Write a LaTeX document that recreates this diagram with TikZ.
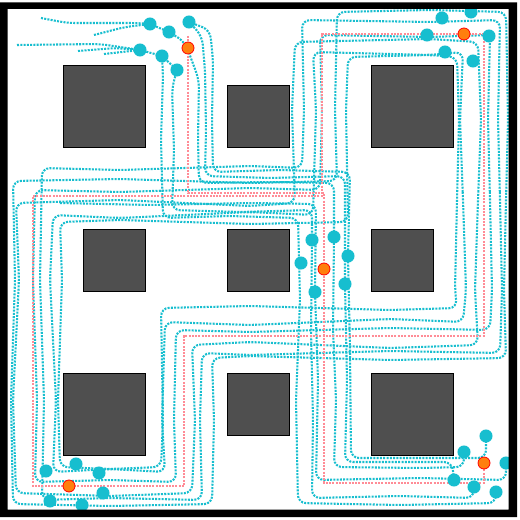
\documentclass[tikz,border=0pt]{standalone}
\definecolor{tcyan}{RGB}{23,190,207}
\definecolor{tpink}{RGB}{255,140,150}
\definecolor{torange}{RGB}{255,127,14}
\definecolor{obstgray}{RGB}{79,79,79}
% loop trail: top, upper-left vertical, upper-left horizontal, left, bottom, inner vertical, lower horizontal, right, wobble
\newcommand\looptrail[9]{%
  \draw[traj] (#8,200) -- ({#8+(#9)},120) -- (#8,#1) -- (430,{#1-(#9)}) -- (#2,#1)
    -- ({#2-(#9)},110) -- (#2,#3) -- (250,{#3+(#9)}) -- (120,{#3-(#9)}) -- (#4,#3)
    -- ({#4+(#9)},280) -- ({#4-(#9)},400) -- (#4,#5) -- (110,{#5+(#9)}) -- (#6,#5)
    -- ({#6+(#9)},420) -- (#6,#7) -- (250,{#7-(#9)}) -- (390,{#7+(#9)}) -- (#8,#7)
    -- ({#8-(#9)},290) -- cycle;}
\begin{document}
\begin{tikzpicture}[x=0.75pt,y=-0.75pt,
  traj/.style={draw=tcyan, line width=1.55pt, dash pattern=on 1.5pt off 0.95pt, rounded corners=6pt},
  plan/.style={draw=tpink, line width=1.55pt, dash pattern=on 1.5pt off 0.95pt},
  obst/.style={fill=obstgray, draw=black, line width=0.7pt},
  robot/.style={circle, fill=tcyan, inner sep=0pt, minimum size=9.8pt},
  leader/.style={circle, fill=torange, draw=red, line width=0.6pt, inner sep=0pt, minimum size=9pt}]
\useasboundingbox (0,0) rectangle (519,520);
\fill[white] (0,0) rectangle (519,520);

% robot positions
\coordinate (tl1) at (150,24); \coordinate (tl2) at (169,32); \coordinate (tl3) at (189,22);
\coordinate (tl4) at (140,50); \coordinate (tl5) at (162,56); \coordinate (tl6) at (177,70);
\coordinate (tlL) at (188,48);
\coordinate (tr1) at (442,18); \coordinate (tr2) at (471,12); \coordinate (tr3) at (427,35);
\coordinate (tr4) at (489,36); \coordinate (tr5) at (445,52); \coordinate (tr6) at (473,61);
\coordinate (trL) at (464,34);
\coordinate (c1) at (312,240); \coordinate (c2) at (334,237); \coordinate (c3) at (301,263);
\coordinate (c4) at (348,256); \coordinate (c5) at (315,292); \coordinate (c6) at (345,284);
\coordinate (cL) at (324,269);
\coordinate (bl1) at (46,471); \coordinate (bl2) at (76,464); \coordinate (bl3) at (99,473);
\coordinate (bl4) at (103,493); \coordinate (bl5) at (50,501); \coordinate (bl6) at (82,505);
\coordinate (blL) at (69,486);
\coordinate (br1) at (486,436); \coordinate (br2) at (464,452); \coordinate (br3) at (506,463);
\coordinate (br4) at (454,480); \coordinate (br5) at (474,487); \coordinate (br6) at (496,492);
\coordinate (brL) at (484,463);

% obstacles
\draw[obst] (63,65) rectangle (145,147);
\draw[obst] (227,85) rectangle (289,147);
\draw[obst] (371,65) rectangle (453,147);
\draw[obst] (83,229) rectangle (145,291);
\draw[obst] (227,229) rectangle (289,291);
\draw[obst] (371,229) rectangle (433,291);
\draw[obst] (63,373) rectangle (145,455);
\draw[obst] (227,373) rectangle (289,435);
\draw[obst] (371,373) rectangle (453,455);

% loop trajectories
\looptrail{12}{337}{181}{13}{504}{212}{358}{506}{2}
\looptrail{20}{302}{168}{42}{500}{202}{353}{500}{-2}
\looptrail{42}{295}{203}{16}{493}{192}{345}{478}{3}
\looptrail{52}{313}{215}{53}{472}{165}{322}{463}{-3}
\looptrail{57}{348}{222}{60}{467}{161}{308}{457}{2}
\looptrail{35}{320}{190}{35}{482}{176}{330}{490}{-2}

% route B trajectories
\draw[traj] (tl5) -- (163,75) -- (161,140) -- (163,218) -- (230,216) -- (298,218) -- (300,300)
  -- (296,400) -- (298,503) -- (400,505) -- (496,503) -- (br6);
\draw[traj] (tl6) -- (172,88) -- (174,150) -- (172,210) -- (240,212) -- (312,210) -- (c1)
  -- (311,330) -- (313,420) -- (312,498) -- (400,496) -- (474,498) -- (br5);
\draw[traj] (60,203) -- (150,205) -- (250,203) -- (316,204) -- (c5) -- (318,380)
  -- (316,480) -- (420,478) -- (506,480) -- (br3);
\draw[traj] (tl2) -- (185,42) -- (199,80) -- (198,140) -- (199,183) -- (270,182) -- (334,183)
  -- (c2) -- (333,330) -- (336,400) -- (334,467) -- (420,468) -- (464,467) -- (br2);
\draw[traj] (tl3) -- (202,36) -- (205,70) -- (206,130) -- (205,176) -- (270,178) -- (345,176)
  -- (c6) -- (347,380) -- (345,462) -- (452,462) -- (br4);
\draw[traj] (tl3) -- (210,30) -- (213,60) -- (212,120) -- (213,172) -- (280,170) -- (350,172)
  -- (c4) -- (350,350) -- (351,458) -- (486,458) -- (br1);

% tails at the top left
\draw[traj] (41,18) -- (67,23) -- (137,23) -- (tl1);
\draw[traj] (94,35) -- (125,27) -- (tl1);
\draw[traj] (17,45) -- (100,44) -- (tl4);
\draw[traj] (78,51) -- (115,48) -- (tl4);
\draw[traj] (104,54) -- (tl4);
\draw[traj] (tl1) -- (tl2);
\draw[traj] (tl4) -- (tl5) -- (tl6);

% planned paths
\draw[plan] (484,34) -- (322,34) -- (322,196) -- (33,196) -- (33,486) -- (184,486)
  -- (184,336) -- (484,336) -- cycle;
\draw[plan] (188,36) -- (188,193) -- (324,193) -- (324,483) -- (484,483) -- (484,463);

% robots
\foreach \g in {tl,tr,c,bl,br}{
  \foreach \i in {1,...,6}{ \node[robot] (n-\g\i) at (\g\i) {}; }
  \node[leader] (n-\g L) at (\g L) {};
}

% frame
\fill[black, even odd rule] (0,2.5) rectangle (517,517) (7.5,9) rectangle (508.5,509.5);
\end{tikzpicture}
\end{document}
